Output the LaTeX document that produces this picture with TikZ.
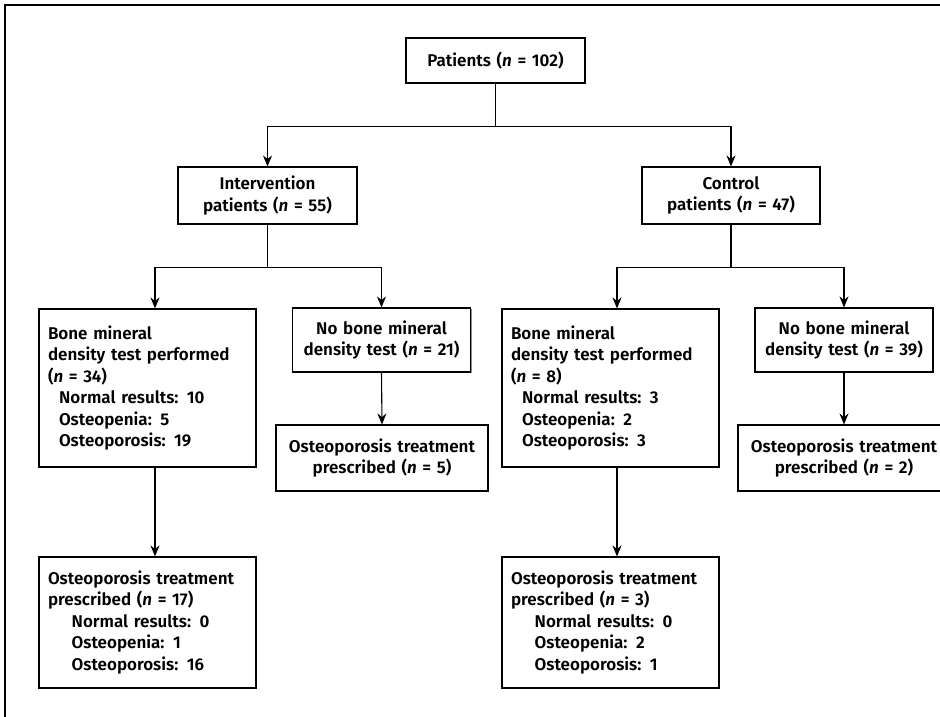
\documentclass[tikz,border=0pt]{standalone}
\usepackage{fontspec}
\setmainfont{Fira Sans}[UprightFont={* SemiBold},ItalicFont={* SemiBold Italic}]
\usetikzlibrary{arrows.meta}
\usetikzlibrary{positioning}
\usetikzlibrary{shadows}
\tikzset{box/.style={rectangle,draw=black,fill=white,line width=1.1pt,inner xsep=9pt,inner ysep=0pt,font=\fontsize{17}{21.5}\selectfont,drop shadow={shadow xshift=1pt,shadow yshift=-1pt,fill=black!45,opacity=1}}}
\tikzset{cbox/.style={box,align=center}}
\tikzset{lbox/.style={box,align=left}}
\tikzset{link/.style={draw=black,line width=1.1pt,->,>={Stealth[length=11pt,width=9pt]}}}
\newcommand{\sub}[1][11pt]{\hspace*{#1}}

\begin{document}
\begin{tikzpicture}[x=1pt,y=-1pt]
  \useasboundingbox (0,0) rectangle (940,717);
  \clip (0,0) rectangle (940,717);
  \draw [line width=1.1pt] (5,717) -- (5,5) -- (940,5);

  \node [cbox,text width=161pt,minimum height=45pt] (P) at (495.5,60.5)
  {Patients (\textit{n} = 102)};

  \node [cbox,text width=161pt,minimum height=57pt] (I) at (267.5,195.5)
  {Intervention\\patients (\textit{n} = 55)};
  \node [cbox,text width=160pt,minimum height=57pt] (C) at (731,195.5)
  {Control\\patients (\textit{n} = 47)};

  \node [lbox,text width=199pt,minimum height=158pt] (BI) at (147.5,388)
  {
    Bone mineral\\
    density test performed\\
    (\textit{n} = 34)\\
    \sub Normal results: 10\\
    \sub Osteopenia: 5\\
    \sub Osteoporosis: 19
  };
  \node [cbox,text width=160pt,minimum height=64pt] (NI) at (381.5,340)
  {No bone mineral\\density test (\textit{n} = 21)};
  \node [cbox,text width=194pt,minimum height=66pt] (TI) at (382,458)
  {Osteoporosis treatment\\prescribed (\textit{n} = 5)};
  \node [lbox,text width=199pt,minimum height=131pt] (RI) at (147.5,622.5)
  {
    Osteoporosis treatment\\
    prescribed (\textit{n} = 17)\\
    \sub[18pt] Normal results: 0\\
    \sub[18pt] Osteopenia: 1\\
    \sub[18pt] Osteoporosis: 16
  };

  \node [lbox,text width=199pt,minimum height=158pt] (BC) at (610.5,388)
  {
    Bone mineral\\
    density test performed\\
    (\textit{n} = 8)\\
    \sub Normal results: 3\\
    \sub Osteopenia: 2\\
    \sub Osteoporosis: 3
  };
  \node [cbox,text width=160pt,minimum height=64pt] (NC) at (844,340)
  {No bone mineral\\density test (\textit{n} = 39)};
  \node [cbox,text width=194pt,minimum height=66pt] (TC) at (844,458)
  {Osteoporosis treatment\\prescribed (\textit{n} = 2)};
  \node [lbox,text width=199pt,minimum height=131pt] (RC) at (610.5,622.5)
  {
    Osteoporosis treatment\\
    prescribed (\textit{n} = 3)\\
    \sub[18pt] Normal results: 0\\
    \sub[18pt] Osteopenia: 2\\
    \sub[18pt] Osteoporosis: 1
  };

  \coordinate [below=43pt of P.south] (s0);
  \coordinate [below=43pt of I.south] (s1);
  \coordinate [below=43pt of C.south] (s2);

  \draw [line width=1.1pt] (P.south) -- (s0);
  \draw [link] (s0) -| (I.north);
  \draw [link] (s0) -| (C.north);

  \draw [line width=1.1pt] (I.south) -- (s1);
  \draw [link] (s1) -| ([xshift=7.5pt]BI.north);
  \draw [link] (s1) -| (NI.north);
  \draw [link] ([xshift=7.5pt]BI.south) -- ([xshift=7.5pt]RI.north);
  \draw [link] (NI.south) -- (TI.north);

  \draw [line width=1.1pt] (C.south) -- (s2);
  \draw [link] (s2) -| ([xshift=6.5pt]BC.north);
  \draw [link] (s2) -| (NC.north);
  \draw [link] ([xshift=6.5pt]BC.south) -- ([xshift=6.5pt]RC.north);
  \draw [link] (NC.south) -- (TC.north);
\end{tikzpicture}
\end{document}
